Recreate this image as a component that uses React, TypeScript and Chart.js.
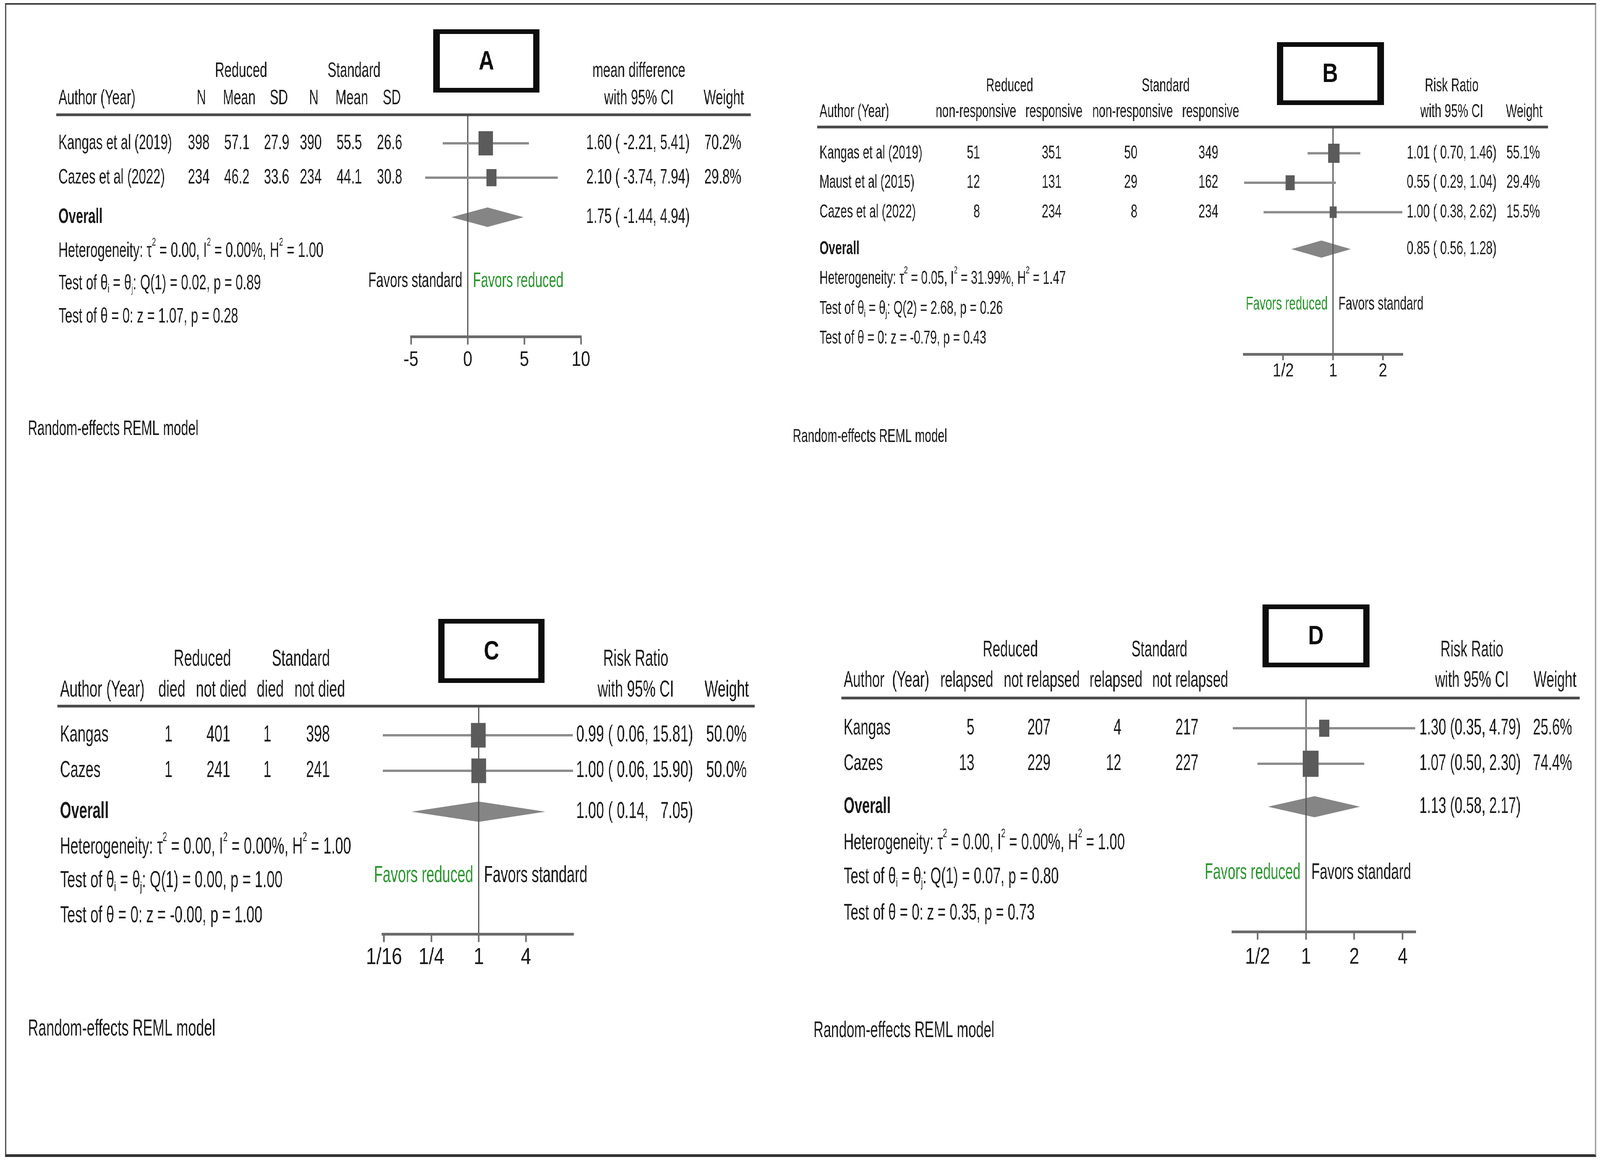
import React, { useEffect, useRef } from "react";
import { Chart, registerables } from "chart.js";

Chart.register(...registerables);

// ======================= DATA =======================
const groupHeads = ["Reduced", "Standard"];
const ciHead = "with 95% CI";
const weightHead = "Weight";
const overallLabel = "Overall";
const remlLabel = "Random-effects REML model";

// ---- Panel A : mean difference ----
const aStudies = ["Kangas et al (2019)", "Cazes et al (2022)"];
const aColHeads = ["N", "Mean", "SD", "N", "Mean", "SD"];
const aRedN = [398, 234];
const aRedMean = [57.1, 46.2];
const aRedSD = [27.9, 33.6];
const aStdN = [390, 234];
const aStdMean = [55.5, 44.1];
const aStdSD = [26.6, 30.8];
const aEst = [1.6, 2.1];
const aLo = [-2.21, -3.74];
const aHi = [5.41, 7.94];
const aWeight = [70.2, 29.8];
const aOverall = [1.75, -1.44, 4.94];
const aHet = ["0.00", "0.00%", "1.00"];
const aQ = ["1", "0.02", "0.89"];
const aZ = ["1.07", "0.28"];
const aTicks = [-5, 0, 5, 10];
const aTickLabels = ["-5", "0", "5", "10"];
const aEffHead = "mean difference";
const aFavors = ["Favors standard", "Favors reduced"];

// ---- Panel B : response ----
const bStudies = ["Kangas et al (2019)", "Maust et al (2015)", "Cazes et al (2022)"];
const bColHeads = ["non-responsive", "responsive", "non-responsive", "responsive"];
const bRedNon = [51, 12, 8];
const bRedResp = [351, 131, 234];
const bStdNon = [50, 29, 8];
const bStdResp = [349, 162, 234];
const bEst = [1.01, 0.55, 1.0];
const bLo = [0.7, 0.29, 0.38];
const bHi = [1.46, 1.04, 2.62];
const bWeight = [55.1, 29.4, 15.5];
const bOverall = [0.85, 0.56, 1.28];
const bHet = ["0.05", "31.99%", "1.47"];
const bQ = ["2", "2.68", "0.26"];
const bZ = ["-0.79", "0.43"];
const bTicks = [0.5, 1, 2];
const bTickLabels = ["1/2", "1", "2"];
const bEffHead = "Risk Ratio";
const bFavors = ["Favors reduced", "Favors standard"];

// ---- Panel C : mortality ----
const cStudies = ["Kangas", "Cazes"];
const cColHeads = ["died", "not died", "died", "not died"];
const cRedDied = [1, 1];
const cRedNot = [401, 241];
const cStdDied = [1, 1];
const cStdNot = [398, 241];
const cEst = [0.99, 1.0];
const cLo = [0.06, 0.06];
const cHi = [15.81, 15.9];
const cWeight = [50.0, 50.0];
const cOverall = [1.0, 0.14, 7.05];
const cHet = ["0.00", "0.00%", "1.00"];
const cQ = ["1", "0.00", "1.00"];
const cZ = ["-0.00", "1.00"];
const cTicks = [1 / 16, 1 / 4, 1, 4];
const cTickLabels = ["1/16", "1/4", "1", "4"];
const cEffHead = "Risk Ratio";
const cFavors = ["Favors reduced", "Favors standard"];

// ---- Panel D : relapse ----
const dStudies = ["Kangas", "Cazes"];
const dColHeads = ["relapsed", "not relapsed", "relapsed", "not relapsed"];
const dRedRel = [5, 13];
const dRedNot = [207, 229];
const dStdRel = [4, 12];
const dStdNot = [217, 227];
const dEst = [1.3, 1.07];
const dLo = [0.35, 0.5];
const dHi = [4.79, 2.3];
const dWeight = [25.6, 74.4];
const dOverall = [1.13, 0.58, 2.17];
const dHet = ["0.00", "0.00%", "1.00"];
const dQ = ["1", "0.07", "0.80"];
const dZ = ["0.35", "0.73"];
const dTicks = [0.5, 1, 2, 4];
const dTickLabels = ["1/2", "1", "2", "4"];
const dEffHead = "Risk Ratio";
const dFavors = ["Favors reduced", "Favors standard"];

// ======================= STYLE =======================
const PAGE_W = 5084;
const PAGE_H = 2981;
const FAMILY = '"Liberation Sans", Arial, Helvetica, sans-serif';
const TICK_FAMILY = '"Liberation Sans Narrow", "Liberation Sans", Arial, sans-serif';
const TEXT = "#1a1a1a";
const GREEN = "#2c9630";
const REF_COLOR = "#555555";
const AXIS_COLOR = "#6b6b6b";
const HEAD_LINE = "#4a4a4a";
const CI_COLOR = "#8c8c8c";
const SQ_COLOR = "#5b5b5b";
const DIA_COLOR = "#858585";
const BOX_COLOR = "#0d0d0d";
const AXH = 100;

const f1 = (v: number) => v.toFixed(1);
const f2 = (v: number) => v.toFixed(2);
const str = (v: number) => String(v);

const SPECS: any[] = [
  {
    letter: "A",
    canvas: [0, 0, 2480, 1450],
    font: 53, sx: 0.78,
    firstY: 367, step: 88,
    r: { h1: -2.1, h2: -1.3, line: -0.83, overall: 2.15, stats: [3.14, 4.08, 5.05], favors: 4.02, axis: 5.63 },
    axisX: [1306, 1846], lineX: [179, 2385], authorX: 186, authorHead: "Author (Year)",
    groupX: [766, 1125], colHeadX: [640, 760, 886, 997, 1118, 1245], colRight: [666, 793, 919, 1022, 1150, 1278],
    ciX: 1863, wX: 2238, effX: 2030, wHeadX: 2300,
    tickLen: 20, tickPad: 8, boxMax: 62, diaHalf: 25,
    reml: [89, 1099], box: [1377, 75, 337, 162],
    studies: aStudies, colHeads: aColHeads,
    cols: [aRedN.map(str), aRedMean.map(f1), aRedSD.map(f1), aStdN.map(str), aStdMean.map(f1), aStdSD.map(f1)],
    est: aEst, lo: aLo, hi: aHi, weight: aWeight, overall: aOverall,
    het: aHet, q: aQ, z: aZ, log: false, ticks: aTicks, tickLabels: aTickLabels, ref: 0,
    effHead: aEffHead, favors: aFavors, leftGreen: false, ciOpen: "( ",
  },
  {
    letter: "B",
    canvas: [2480, 0, 2604, 1450],
    font: 48, sx: 0.78,
    firstY: 392.5, step: 75.5,
    r: { h1: -2.28, h2: -1.4, line: -0.89, overall: 3.25, stats: [4.25, 5.28, 6.28], favors: 5.13, axis: 6.82 },
    axisX: [3953, 4456], lineX: [2596, 4919], authorX: 2604, authorHead: "Author (Year)",
    groupX: [3208, 3704], colHeadX: [3101, 3349, 3599, 3847], colRight: [3114, 3373, 3614, 3871],
    ciX: 4470, wX: 4787, effX: 4613, wHeadX: 4843,
    tickLen: 15, tickPad: 0, boxMax: 49, diaHalf: 22,
    reml: [2519, 1119], box: [4057, 108, 340, 161],
    studies: bStudies, colHeads: bColHeads,
    cols: [bRedNon.map(str), bRedResp.map(str), bStdNon.map(str), bStdResp.map(str)],
    est: bEst, lo: bLo, hi: bHi, weight: bWeight, overall: bOverall,
    het: bHet, q: bQ, z: bZ, log: true, ticks: bTicks, tickLabels: bTickLabels, ref: 1,
    effHead: bEffHead, favors: bFavors, leftGreen: true, ciOpen: "( ",
  },
  {
    letter: "C",
    canvas: [0, 1450, 2480, 1531],
    font: 59, sx: 0.77,
    firstY: 1883, step: 91,
    r: { h1: -2.13, h2: -1.27, line: -0.82, overall: 2.15, stats: [3.15, 4.1, 5.09], favors: 3.95, axis: 5.6 },
    axisX: [1216, 1821], lineX: [183, 2398], authorX: 191, authorHead: "Author (Year)",
    groupX: [643, 956], colHeadX: [546, 703, 859, 1016], colRight: [548, 732, 862, 1048],
    ciX: 1831, wX: 2244, effX: 2020, wHeadX: 2309,
    tickLen: 20, tickPad: 5, boxMax: 63, diaHalf: 26,
    reml: [89, 2636], box: [1393, 1585, 337, 164],
    studies: cStudies, colHeads: cColHeads,
    cols: [cRedDied.map(str), cRedNot.map(str), cStdDied.map(str), cStdNot.map(str)],
    est: cEst, lo: cLo, hi: cHi, weight: cWeight, overall: cOverall,
    het: cHet, q: cQ, z: cZ, log: true, ticks: cTicks, tickLabels: cTickLabels, ref: 1,
    effHead: cEffHead, favors: cFavors, leftGreen: true, ciOpen: "( ",
  },
  {
    letter: "D",
    canvas: [2480, 1450, 2604, 1531],
    font: 57, sx: 0.77,
    firstY: 1865, step: 91,
    r: { h1: -2.19, h2: -1.34, line: -0.85, overall: 2.21, stats: [3.23, 4.19, 5.21], favors: 4.07, axis: 5.73 },
    axisX: [3917, 4497], lineX: [2673, 5019], authorX: 2681, authorHead: "Author  (Year)",
    groupX: [3210, 3684], colHeadX: [3072, 3310, 3546, 3782], colRight: [3096, 3338, 3563, 3808],
    ciX: 4510, wX: 4871, effX: 4677, wHeadX: 4941,
    tickLen: 20, tickPad: 12, boxMax: 67, diaHalf: 27,
    reml: [2585, 2640], box: [4011, 1548, 341, 161],
    studies: dStudies, colHeads: dColHeads,
    cols: [dRedRel.map(str), dRedNot.map(str), dStdRel.map(str), dStdNot.map(str)],
    est: dEst, lo: dLo, hi: dHi, weight: dWeight, overall: dOverall,
    het: dHet, q: dQ, z: dZ, log: true, ticks: dTicks, tickLabels: dTickLabels, ref: 1,
    effHead: dEffHead, favors: dFavors, leftGreen: true, ciOpen: "(",
  },
];

// ======================= DRAW HELPERS =======================
function drawTxt(ctx: CanvasRenderingContext2D, s: string, x: number, y: number, size: number, sx: number,
  align: string = "left", color: string = TEXT, bold = false) {
  ctx.save();
  ctx.font = `${bold ? "bold " : ""}${size}px ${FAMILY}`;
  ctx.fillStyle = color;
  ctx.textBaseline = "middle";
  ctx.textAlign = "left";
  const w = ctx.measureText(s).width * sx;
  const x0 = align === "left" ? x : align === "right" ? x - w : x - w / 2;
  ctx.translate(x0, y);
  ctx.scale(sx, 1);
  ctx.fillText(s, 0, 0);
  ctx.restore();
}

function drawRich(ctx: CanvasRenderingContext2D, parts: [string, number][], x: number, y: number, size: number, sx: number) {
  let cx = x;
  for (const [t, m] of parts) {
    const fs = m === 0 ? size : size * 0.55;
    const dy = m === 1 ? -size * 0.42 : m === -1 ? size * 0.28 : 0;
    ctx.save();
    ctx.font = `${fs}px ${FAMILY}`;
    ctx.fillStyle = TEXT;
    ctx.textBaseline = "middle";
    ctx.textAlign = "left";
    const w = ctx.measureText(t).width * sx;
    ctx.translate(cx, y + dy);
    ctx.scale(sx, 1);
    ctx.fillText(t, 0, 0);
    ctx.restore();
    cx += w;
  }
}

function padTo(s: string, len: number) {
  return "  ".repeat(Math.max(0, len - s.length)) + s;
}

function buildChart(canvas: HTMLCanvasElement, s: any, ratio: number) {
  const [ox, oy, cw, ch] = s.canvas;
  const pageY = (r: number) => s.firstY + r * s.step;
  const top = pageY(s.r.line) - oy;
  const bottom = pageY(s.r.axis) - oy;
  const xmin = Math.min(s.ticks[0], ...s.lo);
  const xmax = Math.max(s.ticks[s.ticks.length - 1], ...s.hi);
  const wmax = Math.max(...s.weight);
  const sizes = s.est.map((_: number, i: number) => s.boxMax * Math.pow(s.weight[i] / wmax, 0.4));

  const allLo = [...s.lo, s.overall[1]].map(f2);
  const allHi = [...s.hi, s.overall[2]].map(f2);
  const loLen = Math.max(...allLo.map((t: string) => t.length));
  const hiLen = Math.max(...allHi.map((t: string) => t.length));
  const ciText = (e: number, l: number, u: number) =>
    `${f2(e)} ${s.ciOpen}${padTo(f2(l), loLen)}, ${padTo(f2(u), hiLen)})`;

  const datasets: any[] = [
    {
      // study estimates (weight boxes drawn at these point elements)
      data: s.est.map((e: number, i: number) => ({ x: e, y: i })),
      pointStyle: "rect",
      pointRadius: 10,
      pointBackgroundColor: SQ_COLOR,
      pointBorderWidth: 0,
      clip: false,
      order: 0,
    },
    ...s.est.map((_: number, i: number) => ({
      // confidence interval whiskers
      data: [{ x: s.lo[i], y: i }, { x: s.hi[i], y: i }],
      showLine: true,
      borderColor: CI_COLOR,
      borderWidth: 6,
      pointRadius: 0,
      clip: false,
      order: 1,
    })),
  ];

  const plugin = {
    id: "forest" + s.letter,
    beforeDraw(chart: any) {
      const ctx = chart.ctx as CanvasRenderingContext2D;
      const xs = chart.scales.x, ys = chart.scales.y;
      const yc = ys.getPixelForValue(s.r.overall);
      const [e, l, u] = s.overall;
      ctx.save();
      ctx.beginPath();
      ctx.moveTo(xs.getPixelForValue(l), yc);
      ctx.lineTo(xs.getPixelForValue(e), yc - s.diaHalf);
      ctx.lineTo(xs.getPixelForValue(u), yc);
      ctx.lineTo(xs.getPixelForValue(e), yc + s.diaHalf);
      ctx.closePath();
      ctx.fillStyle = DIA_COLOR;
      ctx.fill();
      ctx.restore();
    },
    afterDatasetsDraw(chart: any) {
      const ctx = chart.ctx as CanvasRenderingContext2D;
      const meta = chart.getDatasetMeta(0);
      ctx.save();
      ctx.fillStyle = SQ_COLOR;
      meta.data.forEach((pt: any, i: number) => {
        const h = sizes[i];
        const w = h * 0.74;
        ctx.fillRect(pt.x - w / 2, pt.y - h / 2, w, h);
      });
      ctx.restore();
    },
    afterDraw(chart: any) {
      const ctx = chart.ctx as CanvasRenderingContext2D;
      const xs = chart.scales.x, ys = chart.scales.y;
      const X = (px: number) => px - ox;
      const Y = (r: number) => ys.getPixelForValue(r);
      const F = s.font, SX = s.sx;

      // header rule
      ctx.save();
      ctx.fillStyle = HEAD_LINE;
      ctx.fillRect(X(s.lineX[0]), Y(s.r.line) - 3.5, s.lineX[1] - s.lineX[0], 7);
      ctx.restore();

      // column headers
      groupHeads.forEach((g, k) => drawTxt(ctx, g, X(s.groupX[k]), Y(s.r.h1), F, SX, "center"));
      drawTxt(ctx, s.effHead, X(s.effX), Y(s.r.h1), F, SX, "center");
      drawTxt(ctx, s.authorHead, X(s.authorX), Y(s.r.h2), F, SX, "left");
      s.colHeads.forEach((h: string, k: number) => drawTxt(ctx, h, X(s.colHeadX[k]), Y(s.r.h2), F, SX, "center"));
      drawTxt(ctx, ciHead, X(s.effX), Y(s.r.h2), F, SX, "center");
      drawTxt(ctx, weightHead, X(s.wHeadX), Y(s.r.h2), F, SX, "center");

      // study rows
      s.studies.forEach((name: string, i: number) => {
        const y = Y(i);
        drawTxt(ctx, name, X(s.authorX), y, F, SX, "left");
        s.cols.forEach((col: string[], k: number) => drawTxt(ctx, col[i], X(s.colRight[k]), y, F, SX, "right"));
        drawTxt(ctx, ciText(s.est[i], s.lo[i], s.hi[i]), X(s.ciX), y, F, SX, "left");
        drawTxt(ctx, f1(s.weight[i]) + "%", X(s.wX), y, F, SX, "left");
      });

      // overall row
      drawTxt(ctx, overallLabel, X(s.authorX), Y(s.r.overall), F, SX, "left", TEXT, true);
      drawTxt(ctx, ciText(s.overall[0], s.overall[1], s.overall[2]), X(s.ciX), Y(s.r.overall), F, SX, "left");

      // statistics
      drawRich(ctx, [
        ["Heterogeneity: \u03C4", 0], ["2", 1], [" = " + s.het[0] + ", I", 0], ["2", 1],
        [" = " + s.het[1] + ", H", 0], ["2", 1], [" = " + s.het[2], 0],
      ], X(s.authorX), Y(s.r.stats[0]), F, SX);
      drawRich(ctx, [
        ["Test of \u03B8", 0], ["i", -1], [" = \u03B8", 0], ["j", -1],
        [": Q(" + s.q[0] + ") = " + s.q[1] + ", p = " + s.q[2], 0],
      ], X(s.authorX), Y(s.r.stats[1]), F, SX);
      drawRich(ctx, [["Test of \u03B8 = 0: z = " + s.z[0] + ", p = " + s.z[1], 0]], X(s.authorX), Y(s.r.stats[2]), F, SX);

      // favours labels around the reference line
      const rx = xs.getPixelForValue(s.ref);
      drawTxt(ctx, s.favors[0], rx - 17, Y(s.r.favors), F, SX, "right", s.leftGreen ? GREEN : TEXT);
      drawTxt(ctx, s.favors[1], rx + 17, Y(s.r.favors), F, SX, "left", s.leftGreen ? TEXT : GREEN);

      // model note
      drawTxt(ctx, remlLabel, X(s.reml[0]), s.reml[1] - oy, F, SX, "left");

      // panel letter box
      const [bx, by, bw, bh] = s.box;
      ctx.save();
      ctx.fillStyle = BOX_COLOR;
      const vx = 20, hy = 12;
      ctx.fillRect(X(bx), by - oy, bw, hy);
      ctx.fillRect(X(bx), by - oy + bh - hy, bw, hy);
      ctx.fillRect(X(bx), by - oy, vx, bh);
      ctx.fillRect(X(bx) + bw - vx, by - oy, vx, bh);
      ctx.restore();
      drawTxt(ctx, s.letter, X(bx + bw / 2), by - oy + bh / 2 + 3, 68, 1, "center", BOX_COLOR, true);
    },
  };

  return new Chart(canvas, {
    type: "scatter",
    data: { datasets },
    plugins: [plugin],
    options: {
      animation: false,
      responsive: false,
      devicePixelRatio: ratio,
      events: [],
      layout: {
        padding: {
          left: s.axisX[0] - ox,
          right: ox + cw - s.axisX[1],
          top,
          bottom: ch - bottom - AXH,
        },
      },
      plugins: { legend: { display: false }, tooltip: { enabled: false } },
      scales: {
        x: {
          type: s.log ? "logarithmic" : "linear",
          position: "bottom",
          min: xmin,
          max: xmax,
          bounds: "data",
          afterBuildTicks: (sc: any) => {
            sc.ticks = s.ticks.map((v: number) => ({ value: v }));
          },
          afterFit: (sc: any) => {
            sc.height = AXH;
          },
          ticks: {
            autoSkip: false,
            maxRotation: 0,
            minRotation: 0,
            padding: s.tickPad,
            color: TEXT,
            font: { family: TICK_FAMILY, size: s.font },
            callback: (_v: any, i: number) => s.tickLabels[i],
          },
          grid: {
            drawOnChartArea: true,
            drawTicks: true,
            tickLength: s.tickLen,
            tickWidth: 5,
            tickColor: AXIS_COLOR,
            lineWidth: 4,
            color: (c: any) =>
              c.tick && Math.abs(c.tick.value - s.ref) < 1e-9 ? REF_COLOR : "rgba(0,0,0,0)",
          },
          border: { display: true, color: AXIS_COLOR, width: 7 },
        },
        y: {
          type: "linear",
          display: false,
          reverse: true,
          min: s.r.line,
          max: s.r.axis,
        },
      },
    } as any,
  } as any);
}

function Panel({ spec, ratio }: { spec: any; ratio: number }) {
  const ref = useRef<HTMLCanvasElement>(null);
  useEffect(() => {
    if (!ref.current) return;
    const chart = buildChart(ref.current, spec, ratio);
    return () => chart.destroy();
  }, [spec, ratio]);
  const [x, y, w, h] = spec.canvas;
  return (
    <canvas
      ref={ref}
      width={w}
      height={h}
      style={{ position: "absolute", left: x, top: y, width: w, height: h, display: "block" }}
    />
  );
}

export default function App() {
  useEffect(() => {
    document.body.style.margin = "0";
    document.body.style.overflow = "hidden";
  }, []);
  const vw = (typeof window !== "undefined" && window.innerWidth) || PAGE_W;
  const vh = (typeof window !== "undefined" && window.innerHeight) || PAGE_H;
  const kx = vw / PAGE_W;
  const ky = vh / PAGE_H;
  const dpr = (typeof window !== "undefined" && window.devicePixelRatio) || 1;
  const ratio = Math.max(1, Math.max(kx, ky) * dpr);
  return (
    <div style={{ position: "absolute", left: 0, top: 0, width: vw, height: vh, overflow: "hidden", background: "#ffffff" }}>
      <div
        style={{
          position: "absolute", left: 0, top: 0, width: PAGE_W, height: PAGE_H,
          transform: `scale(${kx}, ${ky})`, transformOrigin: "0 0", background: "#ffffff",
        }}
      >
        <div
          style={{
            position: "absolute", left: 16, top: 8, width: 5056, height: 2955, boxSizing: "border-box",
            borderLeft: "4px solid #3a3a3a", borderTop: "4px solid #3a3a3a",
            borderRight: "4px solid #9a9a9a", borderBottom: "7px solid #333333",
          }}
        />
        {SPECS.map((s) => (
          <Panel key={s.letter} spec={s} ratio={ratio} />
        ))}
      </div>
    </div>
  );
}
